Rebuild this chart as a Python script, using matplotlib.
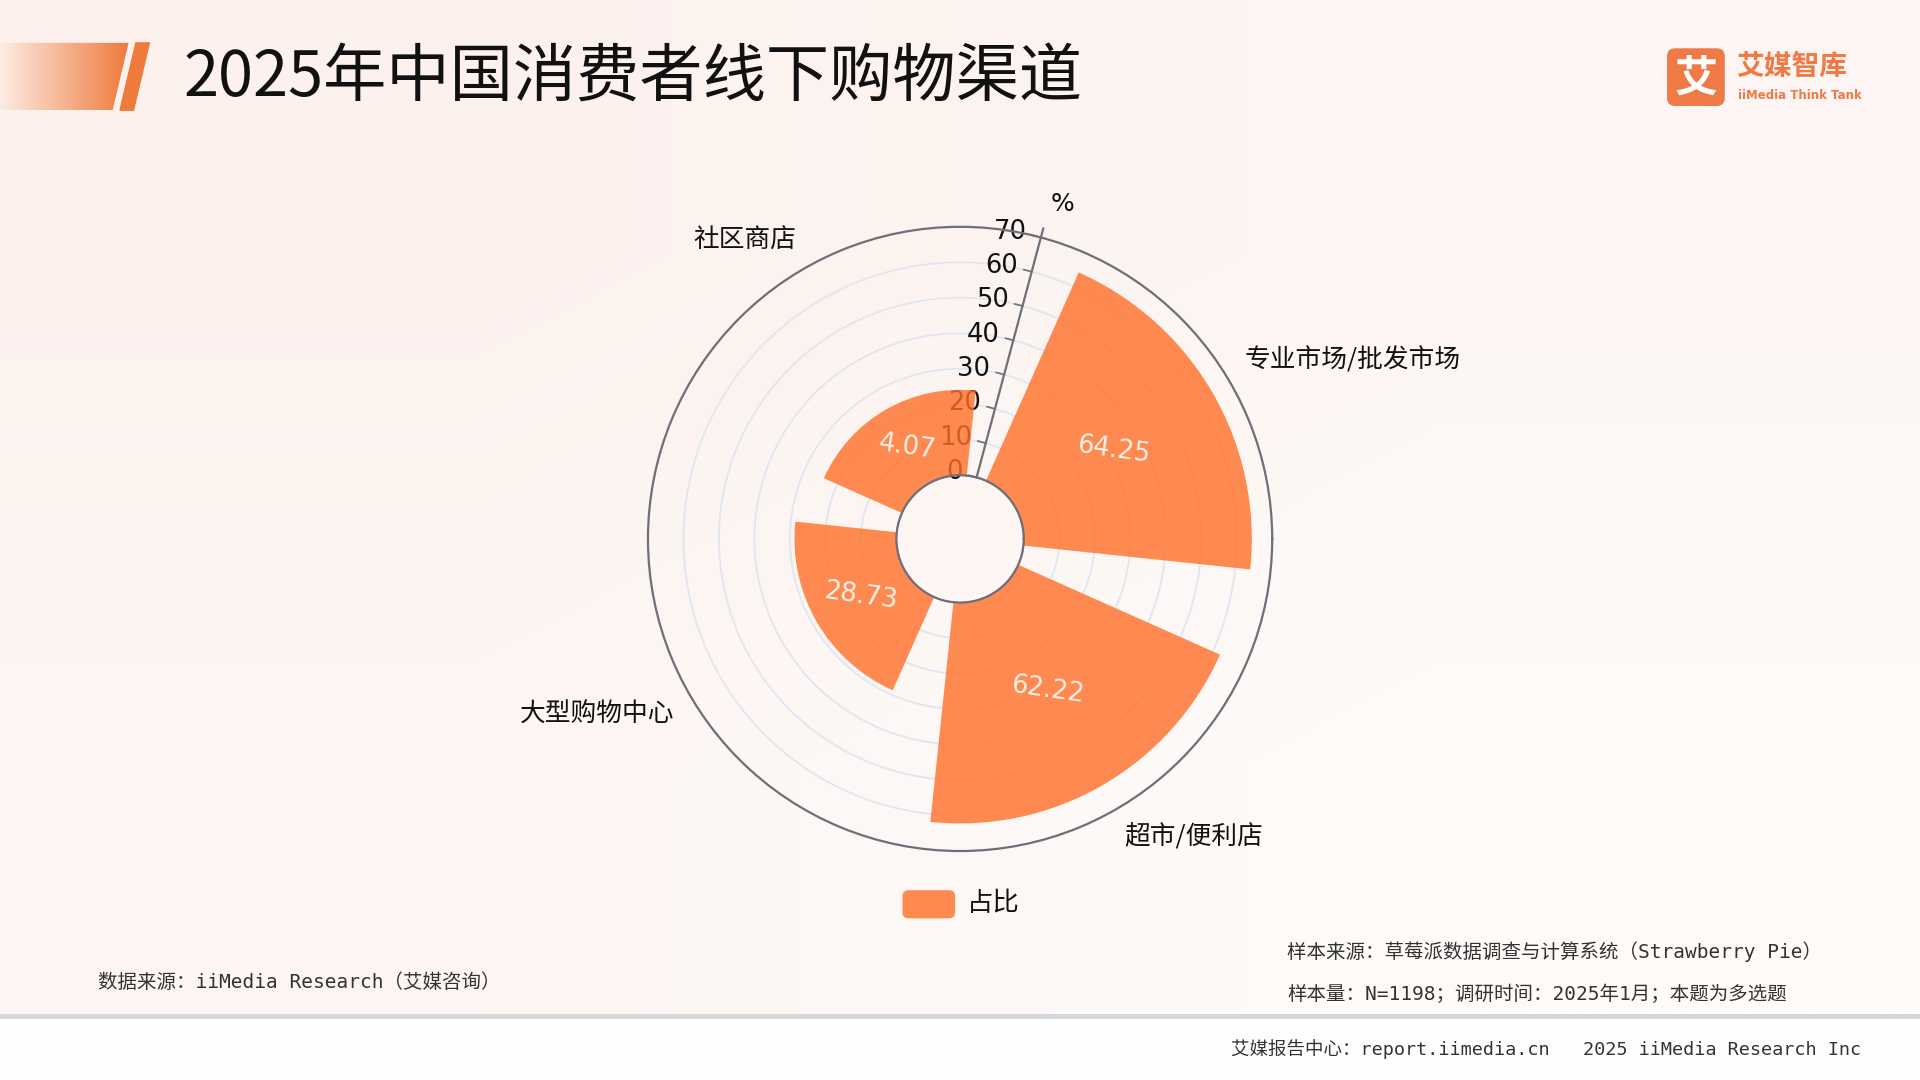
import numpy as np
import matplotlib.pyplot as plt
from matplotlib.patches import Polygon, Rectangle, FancyBboxPatch
from matplotlib.colors import to_rgb

plt.rcParams['font.family'] = ['Noto Sans CJK SC', 'DejaVu Sans']

# data
categories = ['专业市场/批发市场', '超市/便利店', '大型购物中心', '社区商店']
values = [64.25, 62.22, 28.73, 24.07]
value_labels = ['64.25', '62.22', '28.73', '4.07']
r_ticks = [0, 10, 20, 30, 40, 50, 60, 70]

title = '2025年中国消费者线下购物渠道'
source_left = '数据来源：iiMedia Research（艾媒咨询）'
source_right1 = '样本来源：草莓派数据调查与计算系统（Strawberry Pie）'
source_right2 = '样本量：N=1198；调研时间：2025年1月；本题为多选题'
footer = '艾媒报告中心：report.iimedia.cn   2025 iiMedia Research Inc'

orange = '#ff6f28'
axis_col = '#6e7079'
mono = ['DejaVu Sans Mono', 'Noto Sans CJK SC']

fig = plt.figure(figsize=(19.2, 10.8), dpi=100)

# background layer in reference pixel units (1568 x 882)
bg = fig.add_axes([0, 0, 1, 1])
bg.set_xlim(0, 1568)
bg.set_ylim(882, 0)
bg.axis('off')

c1, c2 = np.array(to_rgb('#fcf1ed')), np.array(to_rgb('#fefbf9'))
grad = np.zeros((2, 2, 3))
grad[0, 0] = c1
grad[0, 1] = (c1 + c2) / 2
grad[1, 0] = (c1 + c2) / 2
grad[1, 1] = c2
bg.imshow(grad, extent=(0, 1568, 830, 0), interpolation='bilinear', aspect='auto', zorder=0)
bg.add_patch(Rectangle((0, 830), 1568, 52, color='#fefefe', zorder=0))
bg.plot([0, 1568], [830, 830], color='#d6d6d6', lw=3.5, zorder=1)

# title decoration
deco = Polygon([(0, 35), (105, 35), (92, 90), (0, 90)], closed=True, facecolor='none', edgecolor='none')
bg.add_patch(deco)
ca, cb = np.array(to_rgb('#fdece4')), np.array(to_rgb('#ee7a3c'))
t = np.linspace(0, 1, 256)[None, :, None]
strip = ca * (1 - t) + cb * t
im = bg.imshow(strip, extent=(0, 105, 90, 35), aspect='auto', zorder=1)
im.set_clip_path(deco)
bg.add_patch(Polygon([(111, 35), (122, 35), (109, 90), (98, 90)], closed=True, color='#ee7a3c', zorder=1))

bg.text(150, 63, title, fontsize=45.5, color='#111111', va='center', ha='left')

# logo
bg.add_patch(FancyBboxPatch((1364, 42), 42, 42, boxstyle='round,pad=2,rounding_size=6',
                            color='#f07a45', zorder=2))
bg.text(1385, 64, '艾', fontsize=31, fontweight='bold', color='white', ha='center', va='center', zorder=3)
bg.text(1418, 55, '艾媒智库', fontsize=20, fontweight='bold', color='#f07a45', ha='left', va='center')
bg.text(1419, 78, 'iiMedia Think Tank', fontsize=8.5, fontweight='bold', color='#f07a45',
        ha='left', va='center', family=['DejaVu Sans'])

# polar chart
ax = fig.add_axes([0.3374, 0.212, 0.3253, 0.578], projection='polar')
ax.set_facecolor('none')
ax.set_rorigin(-17.94)
ax.set_ylim(0, 70)

start = 75
n = len(categories)
step = 360 / n
centers = np.deg2rad([start - step / 2 - step * i for i in range(n)])
bounds = np.deg2rad([(start - step * i) % 360 for i in range(n)])

ax.set_yticks(r_ticks)
ax.set_yticklabels([])
ax.yaxis.grid(True, color='#e0e6f1', lw=1.3)
ax.xaxis.grid(False)
ax.set_xticks(bounds)
ax.set_xticklabels([])
ax.tick_params(axis='x', direction='out', length=7, width=1.2, color=axis_col)
ax.tick_params(axis='y', length=0)
ax.spines['polar'].set_color(axis_col)
ax.spines['polar'].set_linewidth(1.6)

th = np.linspace(0, 2 * np.pi, 361)
ax.plot(th, np.zeros_like(th), color=axis_col, lw=1.6, clip_on=False, zorder=5)

ax.bar(centers, values, width=np.deg2rad(step * 0.8), color=orange, alpha=0.8, zorder=3)

th0 = np.deg2rad(start)
ax.plot([th0, th0], [0, 72.6], color=axis_col, lw=1.6, clip_on=False, zorder=5)
for r in r_ticks:
    ax.annotate('', xy=(th0, r), xytext=(-5.8, 1.55), textcoords='offset points',
                arrowprops=dict(arrowstyle='-', color=axis_col, lw=1.2, shrinkA=0, shrinkB=0),
                zorder=2, annotation_clip=False)
    ax.annotate(str(r), xy=(th0, r), xytext=(-10, 4), textcoords='offset points',
                ha='right', va='center', fontsize=18.5, color='#111111', zorder=2,
                family=['DejaVu Sans'], annotation_clip=False)
ax.annotate('%', xy=(th0, 72.6), xytext=(14, 18), textcoords='offset points',
            ha='center', va='center', fontsize=18, color='#111111', family=['DejaVu Sans'],
            annotation_clip=False)

for c, v, lab in zip(centers, values, value_labels):
    ax.text(c, v / 2, lab, ha='center', va='center', rotation=-8, fontsize=18.5,
            color='#fff1e8', family=['DejaVu Sans'], zorder=6)

label_offsets = [(10.5, 16), (5.5, -20), (-11, -14.5), (-5.5, 20)]
for c, name, off in zip(centers, categories, label_offsets):
    ha = 'left' if np.cos(c) > 0 else 'right'
    ax.annotate(name, xy=(c, 70), xytext=off, textcoords='offset points',
                ha=ha, va='center', fontsize=18.5, color='#111111', annotation_clip=False)

# legend
bg.add_patch(FancyBboxPatch((739, 729), 39, 19, boxstyle='round,pad=2,rounding_size=5',
                            color=orange, alpha=0.8, lw=0, zorder=2))
bg.text(790, 738, '占比', fontsize=19, color='#111111', ha='left', va='center')

# sources and footer
bg.text(80, 802, source_left, fontsize=14, color='#333333', ha='left', va='center', family=mono)
bg.text(1051, 777, source_right1, fontsize=14, color='#333333', ha='left', va='center', family=mono)
bg.text(1051, 812, source_right2, fontsize=14, color='#333333', ha='left', va='center', family=mono)
bg.text(1005, 857, footer, fontsize=13.3, color='#333333', ha='left', va='center', family=mono)

fig.savefig('out.png', dpi=100)
